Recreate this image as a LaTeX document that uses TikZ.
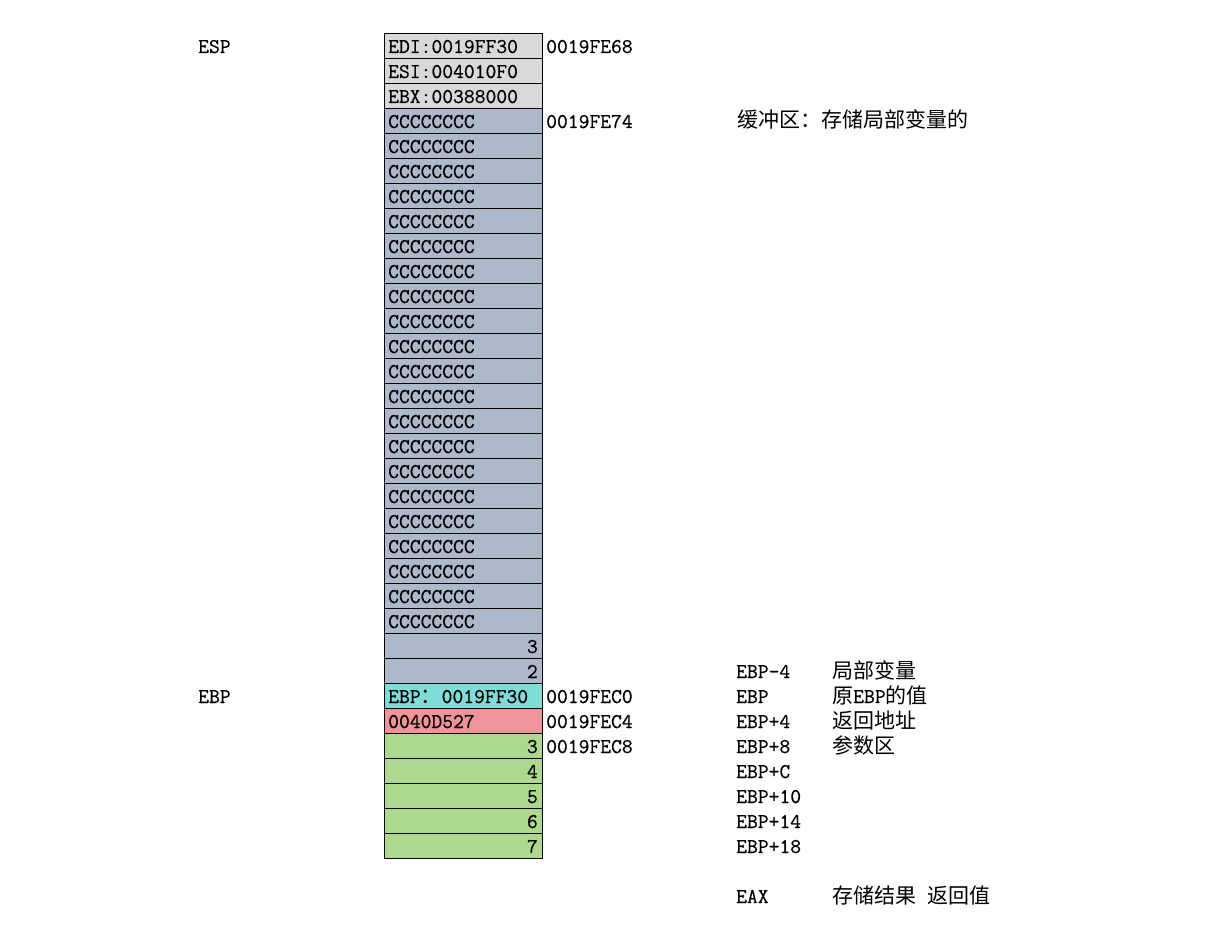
\documentclass[tikz,border=0pt]{standalone}
\usepackage{fontspec}
\setmonofont{Latin Modern Mono}[FakeBold=0.5]
\newfontfamily\cjk{Noto Sans CJK SC}
\definecolor{regcell}{HTML}{D9D9D9}
\definecolor{bufcell}{HTML}{ADB9CA}
\definecolor{ebpcell}{HTML}{7FDDD8}
\definecolor{retcell}{HTML}{F0939A}
\definecolor{argcell}{HTML}{AED88E}

\begin{document}
\begin{tikzpicture}[x=1pt,y=-1pt,font=\ttfamily\fontsize{21}{25}\selectfont,
    cell/.style={draw,line width=1pt,minimum width=158pt,minimum height=25pt,inner sep=0pt,anchor=north west},
    val/.style={inner sep=0pt,anchor=base west},
    num/.style={inner sep=0pt,anchor=base east}]
  \useasboundingbox (0,0) rectangle (1219,928);

  % stack cells
  \foreach \i in {0,1,2} \node[cell,fill=regcell] (r\i) at (384,{33+25*\i}) {};
  \foreach \i in {3,...,25} \node[cell,fill=bufcell] (r\i) at (384,{33+25*\i}) {};
  \node[cell,fill=ebpcell] (r26) at (384,683) {};
  \node[cell,fill=retcell] (r27) at (384,708) {};
  \foreach \i in {28,...,32} \node[cell,fill=argcell] (r\i) at (384,{33+25*\i}) {};

  % cell contents
  \node[val] (v0) at (388,53) {EDI:0019FF30};
  \node[val] (v1) at (388,78) {ESI:004010F0};
  \node[val] (v2) at (388,103) {EBX:00388000};
  \foreach \i in {3,...,23} \node[val] (v\i) at (388,{53+25*\i}) {CCCCCCCC};
  \node[num] (v24) at (538,653) {3};
  \node[num] (v25) at (538,678) {2};
  \node[val] (v26) at (388,703) {EBP{\cjk ：}0019FF30};
  \node[val] (v27) at (388,728) {0040D527};
  \foreach \n [count=\i from 28] in {3,...,7} \node[num] (v\i) at (538,{53+25*\i}) {\n};

  % registers
  \node[val] (esp) at (198,53) {ESP};
  \node[val] (ebp) at (198,703) {EBP};

  % addresses
  \node[val] (a0) at (546,53) {0019FE68};
  \node[val] (a3) at (546,128) {0019FE74};
  \node[val] (a26) at (546,703) {0019FEC0};
  \node[val] (a27) at (546,728) {0019FEC4};
  \node[val] (a28) at (546,753) {0019FEC8};

  % notes
  \node[val] (buf) at (737,128) {{\cjk 缓冲区：存储局部变量的}};
  \foreach \t [count=\i from 25] in {EBP-4,EBP,EBP+4,EBP+8,EBP+C,EBP+10,EBP+14,EBP+18}
    \node[val] (o\i) at (736,{53+25*\i}) {\t};
  \node[val] (o34) at (736,903) {EAX};
  \node[val] (d25) at (832,678) {{\cjk 局部变量}};
  \node[val] (d26) at (832,703) {{\cjk 原}EBP{\cjk 的值}};
  \node[val] (d27) at (832,728) {{\cjk 返回地址}};
  \node[val] (d28) at (832,753) {{\cjk 参数区}};
  \node[val] (d34) at (832,903) {{\cjk 存储结果} {\cjk 返回值}};
\end{tikzpicture}
\end{document}
